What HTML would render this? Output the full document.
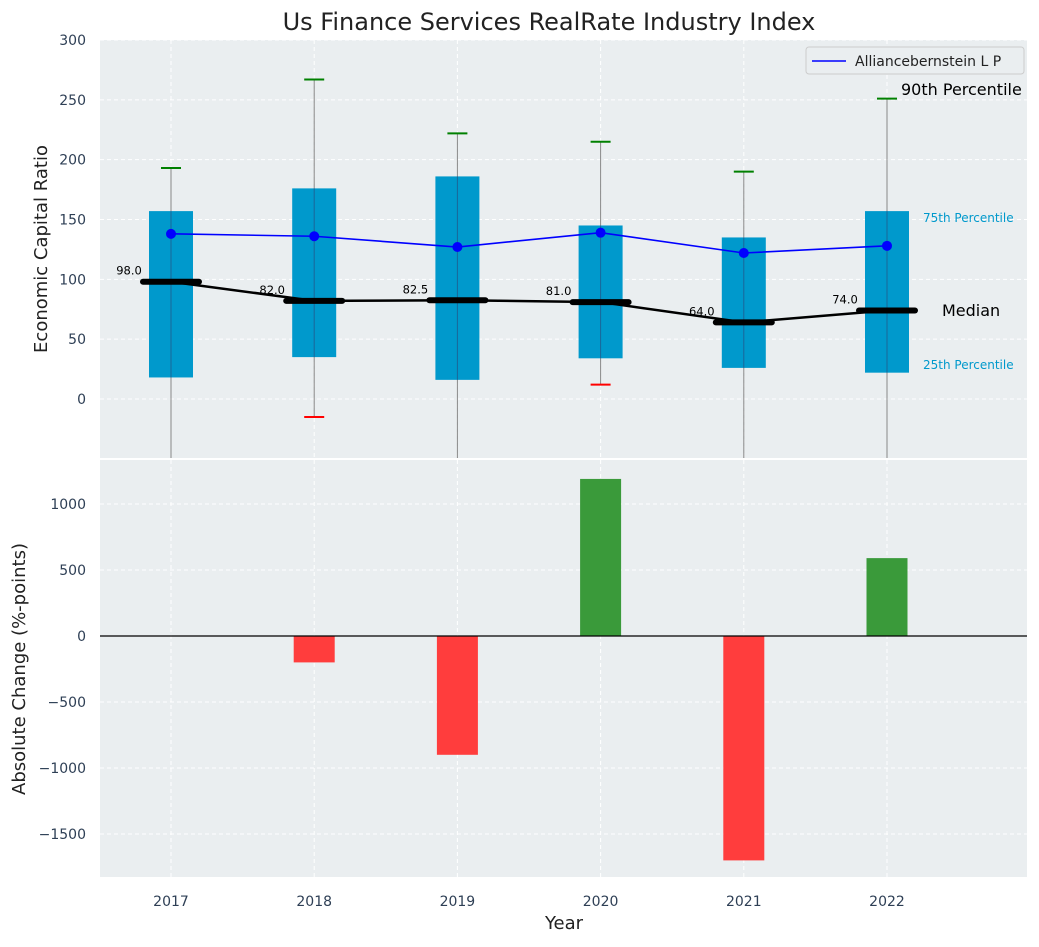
<!DOCTYPE html>
<html><head><meta charset="utf-8"><style>
body{margin:0;background:#fff;font-family:"Liberation Sans","DejaVu Sans",sans-serif}
svg text{font-family:"DejaVu Sans","Liberation Sans",sans-serif}
</style></head><body>
<svg id="c" width="1039" height="942" xmlns="http://www.w3.org/2000/svg"></svg>
<script>
const years=[2017,2018,2019,2020,2021,2022];
const q1=[18,35,16,34,26,22];
const q3=[157,176,186,145,135,157];
const p90=[193,267,222,215,190,251];
const p10=[null,-15,null,12,null,null];
const medians=[98,82,82.5,81,64,74];
const company=[138,136,127,139,122,128];
const changes=[0,-200,-900,1190,-1700,590];
const topTicks=[0,50,100,150,200,250,300];
const botTicks=[-1500,-1000,-500,0,500,1000];

const NS="http://www.w3.org/2000/svg",svg=document.getElementById('c');
function el(t,a,p){const e=document.createElementNS(NS,t);for(const k in a)e.setAttribute(k,a[k]);(p||svg).appendChild(e);return e;}
const fmt=v=>String(v).replace('-','\u2212');
const L=100,R=1027;
const x=v=>171+(v-2017)*143.2;
const yT=v=>399-v*1.1967;
const yB=v=>636-v*0.132;
const T0=40,T1=458,B0=460,B1=877;

let e=el('rect',{x:L,y:T0,width:R-L,height:T1-T0,fill:'#eaeef0'});

e=el('rect',{x:L,y:B0,width:R-L,height:B1-B0,fill:'#eaeef0'});


years.forEach(yr=>{
 el('line',{x1:x(yr),x2:x(yr),y1:T0,y2:T1,stroke:'#fff','stroke-dasharray':'4,3'});
 el('line',{x1:x(yr),x2:x(yr),y1:B0,y2:B1,stroke:'#fff','stroke-dasharray':'4,3'});
 e=el('text',{x:x(yr),y:906,'text-anchor':'middle','font-size':14,fill:'#2e3f55'});e.textContent=yr;
 
});
topTicks.forEach(t=>{
 el('line',{x1:L,x2:R,y1:yT(t),y2:yT(t),stroke:'#fff','stroke-dasharray':'4,3'});
 e=el('text',{x:86,y:yT(t)+5,'text-anchor':'end','font-size':14,fill:'#2e3f55'});e.textContent=fmt(t);
 
});
botTicks.forEach(t=>{
 el('line',{x1:L,x2:R,y1:yB(t),y2:yB(t),stroke:'#fff','stroke-dasharray':'4,3'});
 e=el('text',{x:86,y:yB(t)+5,'text-anchor':'end','font-size':14,fill:'#2e3f55'});e.textContent=fmt(t);
 
});

const clipBot=T1;
years.forEach((yr,i)=>{
 const cx=x(yr);
 const lo=p10[i]==null?clipBot:yT(p10[i]);
 e=el('line',{x1:cx,x2:cx,y1:yT(p90[i]),y2:lo,stroke:'#888','stroke-width':1});
 
 e=el('rect',{x:cx-22,y:yT(q3[i]),width:44,height:yT(q1[i])-yT(q3[i]),fill:'#0099cc'});
 
 el('line',{x1:cx,x2:cx,y1:yT(q3[i]),y2:yT(q1[i]),stroke:'#336',"stroke-opacity":0.5,'stroke-width':1});
 e=el('line',{x1:cx-10,x2:cx+10,y1:yT(p90[i]),y2:yT(p90[i]),stroke:'green','stroke-width':2});
 
 if(p10[i]!=null){e=el('line',{x1:cx-10,x2:cx+10,y1:yT(p10[i]),y2:yT(p10[i]),stroke:'red','stroke-width':2});
 }
});
e=el('polyline',{points:years.map((yr,i)=>x(yr)+','+yT(medians[i])).join(' '),fill:'none',stroke:'#000','stroke-width':2.5});

years.forEach((yr,i)=>{
 e=el('line',{x1:x(yr)-28,x2:x(yr)+28,y1:yT(medians[i]),y2:yT(medians[i]),stroke:'#000','stroke-width':6,'stroke-linecap':'round'});
 
 e=el('text',{x:x(yr)-42,y:yT(medians[i])-7,'text-anchor':'middle','font-size':11.5,fill:'#000'});e.textContent=medians[i].toFixed(1);
 
});
e=el('polyline',{points:years.map((yr,i)=>x(yr)+','+yT(company[i])).join(' '),fill:'none',stroke:'#0000ff','stroke-width':1.6});

years.forEach((yr,i)=>{e=el('circle',{cx:x(yr),cy:yT(company[i]),r:5,fill:'#0000ff'});
 });

const ann=[['90th Percentile',901,95,16,'#000'],['75th Percentile',923,222,12,'#0099cc'],['25th Percentile',923,369,12,'#0099cc'],['Median',942,316,16,'#000']];
ann.forEach(a=>{e=el('text',{x:a[1],y:a[2],'font-size':a[3],fill:a[4]});e.textContent=a[0];
 });

const lg=el('g',{});
el('rect',{x:806,y:47,width:218,height:27,rx:3,fill:'#eaeef0',stroke:'#ccc'},lg);
el('line',{x1:812,x2:846,y1:61,y2:61,stroke:'#0000ff','stroke-width':1.6},lg);
e=el('text',{x:855,y:66,'font-size':14,fill:'#222'},lg);e.textContent='Alliancebernstein L P';

years.forEach((yr,i)=>{
 const v=changes[i];if(!v)return;
 e=el('rect',{x:x(yr)-20.5,y:Math.min(yB(v),yB(0)),width:41,height:Math.abs(yB(v)-yB(0)),fill:v>0?'#3a9a3a':'#ff3d3d'});
 
});
e=el('line',{x1:L,x2:R,y1:yB(0),y2:yB(0),stroke:'#000','stroke-width':1.2});


e=el('text',{x:549,y:30,'text-anchor':'middle','font-size':24,fill:'#222'});e.textContent='Us Finance Services RealRate Industry Index';

e=el('text',{x:0,y:0,'text-anchor':'middle','font-size':18,fill:'#222',transform:'translate(47,249) rotate(-90)'});e.textContent='Economic Capital Ratio';

e=el('text',{x:0,y:0,'text-anchor':'middle','font-size':18,fill:'#222',transform:'translate(25,669) rotate(-90)'});e.textContent='Absolute Change (%-points)';

e=el('text',{x:564,y:929,'text-anchor':'middle','font-size':18,fill:'#222'});e.textContent='Year';

</script>
</body></html>
